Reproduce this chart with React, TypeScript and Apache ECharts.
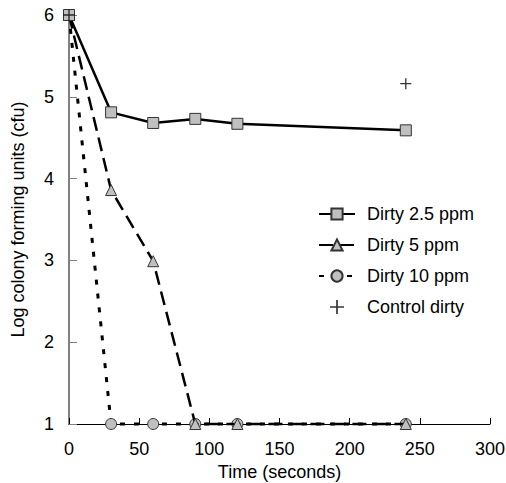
import React, { useEffect, useRef } from "react";
import * as echarts from "echarts";

const times = [0, 30, 60, 90, 120, 240];
const dirty25 = [6, 4.81, 4.68, 4.73, 4.67, 4.59];
const dirty5 = [6, 3.86, 2.99, 1, 1, 1];
const dirty10 = [6, 1, 1, 1, 1, 1];
const controlTimes = [0, 240];
const controlDirty = [6, 5.16];

const seriesNames = ["Dirty 2.5 ppm", "Dirty 5 ppm", "Dirty 10 ppm", "Control dirty"];

const pair = (xs: number[], ys: number[]) => xs.map((x, i) => [x, ys[i]]);

const PLUS = "path://M4.4,0H5.6V4.4H10V5.6H5.6V10H4.4V5.6H0V4.4H4.4Z";

export default function App() {
  const ref = useRef<HTMLDivElement>(null);
  useEffect(() => {
    document.body.style.margin = "0";
    if (!ref.current) return;
    const chart = echarts.init(ref.current, null, { renderer: "svg" });
    const font = "Liberation Sans, Arial, sans-serif";
    const markerStyle = { color: "#c0c0c0", borderColor: "#333", borderWidth: 1 };
    chart.setOption({
      animation: false,
      textStyle: { fontFamily: font },
      grid: {
        left: 69,
        right: 16,
        top: 15,
        bottom: 59,
        containLabel: false,
        outerBoundsMode: "none",
      },
      legend: {
        orient: "vertical",
        left: 313,
        top: 200,
        itemWidth: 36,
        itemHeight: 14,
        itemGap: 13,
        textStyle: { fontSize: 18, color: "#000", fontFamily: font, padding: [0, 0, 0, 7] },
        data: seriesNames,
      },
      xAxis: {
        type: "value",
        min: 0,
        max: 300,
        interval: 50,
        name: "Time (seconds)",
        nameLocation: "middle",
        nameGap: 31,
        nameTextStyle: { fontSize: 18, color: "#000", fontFamily: font },
        axisLine: { show: true, lineStyle: { color: "#000", width: 1 } },
        axisTick: { show: true, inside: true, length: 6, lineStyle: { color: "#000" } },
        axisLabel: { fontSize: 18, color: "#000", margin: 16, fontFamily: font },
        splitLine: { show: false },
      },
      yAxis: {
        type: "value",
        min: 1,
        max: 6,
        interval: 1,
        name: "Log colony forming units (cfu)",
        nameLocation: "middle",
        nameGap: 42,
        nameTextStyle: { fontSize: 18, color: "#000", fontFamily: font },
        axisLine: { show: true, lineStyle: { color: "#808080", width: 2 } },
        axisTick: { show: true, inside: true, length: 8, lineStyle: { color: "#808080" } },
        axisLabel: { fontSize: 18, color: "#000", margin: 15, fontFamily: font },
        splitLine: { show: false },
      },
      series: [
        {
          name: seriesNames[0],
          type: "line",
          data: pair(times, dirty25),
          symbol: "rect",
          symbolSize: 11,
          showAllSymbol: true,
          clip: false,
          lineStyle: { color: "#000", width: 2.5, type: "solid" },
          itemStyle: markerStyle,
          z: 4,
        },
        {
          name: seriesNames[1],
          type: "line",
          data: pair(times, dirty5),
          symbol: "triangle",
          symbolSize: 11,
          showAllSymbol: true,
          clip: false,
          lineStyle: { color: "#000", width: 2.5, type: [14, 7] },
          itemStyle: markerStyle,
          z: 3,
        },
        {
          name: seriesNames[2],
          type: "line",
          data: pair(times, dirty10),
          symbol: "circle",
          symbolSize: 11,
          showAllSymbol: true,
          clip: false,
          lineStyle: { color: "#000", width: 3, type: [5, 9] },
          itemStyle: markerStyle,
          z: 2,
        },
        {
          name: seriesNames[3],
          type: "scatter",
          data: pair(controlTimes, controlDirty),
          symbol: PLUS,
          symbolSize: 11,
          clip: false,
          itemStyle: { color: "#000" },
          z: 5,
        },
      ],
    });
    return () => chart.dispose();
  }, []);
  return <div ref={ref} style={{ width: 506, height: 483 }} />;
}
